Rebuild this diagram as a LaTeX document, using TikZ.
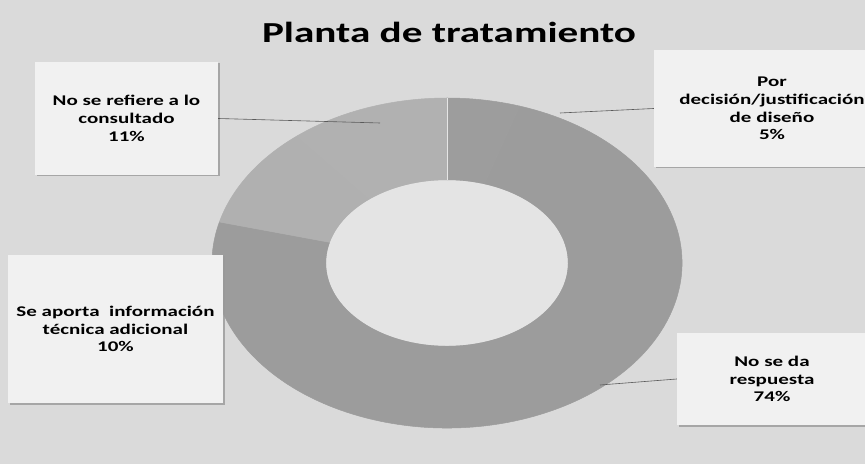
\documentclass[tikz,border=0pt]{standalone}
\usepackage{fontspec}
\setmainfont{Carlito}[FakeStretch=1.42]
\usetikzlibrary{shadows,calc}
\definecolor{bgcol}{HTML}{DADADA}
\definecolor{holecol}{HTML}{E4E4E4}
\definecolor{boxcol}{HTML}{F1F1F1}
\definecolor{sdark}{HTML}{9C9C9C}
\definecolor{sfive}{HTML}{9D9D9D}
\definecolor{sten}{HTML}{B0B0B0}
\definecolor{seleven}{HTML}{B1B1B1}
\definecolor{leadcol}{HTML}{5A5A5A}
\tikzset{
  labelbox/.style={fill=boxcol, inner sep=0pt, align=center,
    font=\bfseries\fontsize{14.8}{17.8}\selectfont,
    drop shadow={shadow xshift=1.5pt, shadow yshift=-1.5pt, fill=gray!80, opacity=0.8}},
  leader/.style={draw=leadcol, line width=0.6pt},
  titletext/.style={font=\bfseries\fontsize{29}{34}\selectfont},
  slice/.style={fill=#1, draw=#1, line width=0.5pt, line join=round}
}
\begin{document}
\begin{tikzpicture}[x=1pt,y=1pt]
\useasboundingbox (0,0) rectangle (865,464);
\fill[bgcol] (0,0) rectangle (865,464);
% donut centre (447,201), outer 235x165, inner 121x83
\def\cx{447}\def\cy{201}
\path[slice=sdark] ($(\cx,\cy)+(72:235 and 165)$) arc[start angle=72, end angle=-194.4, x radius=235, y radius=165]
  -- ($(\cx,\cy)+(-194.4:121 and 83)$) arc[start angle=-194.4, end angle=72, x radius=121, y radius=83] -- cycle;
\path[slice=sfive] ($(\cx,\cy)+(90:235 and 165)$) arc[start angle=90, end angle=72, x radius=235, y radius=165]
  -- ($(\cx,\cy)+(72:121 and 83)$) arc[start angle=72, end angle=90, x radius=121, y radius=83] -- cycle;
\path[slice=sten] ($(\cx,\cy)+(165.6:235 and 165)$) arc[start angle=165.6, end angle=129.6, x radius=235, y radius=165]
  -- ($(\cx,\cy)+(129.6:121 and 83)$) arc[start angle=129.6, end angle=165.6, x radius=121, y radius=83] -- cycle;
\path[slice=seleven] ($(\cx,\cy)+(129.6:235 and 165)$) arc[start angle=129.6, end angle=90, x radius=235, y radius=165]
  -- ($(\cx,\cy)+(90:121 and 83)$) arc[start angle=90, end angle=129.6, x radius=121, y radius=83] -- cycle;
\fill[holecol] (\cx,\cy) ellipse[x radius=120.7, y radius=82.7];
\draw[bgcol!70!white, line width=0.8pt] ($(\cx,\cy)+(90:121 and 83)$) -- ($(\cx,\cy)+(90:235 and 165)$);

\node[titletext, anchor=base] (title) at (449,421) {Planta de tratamiento};

\node[labelbox, minimum width=183pt, minimum height=113pt] (refiere) at (126.5,345.5)
  {No se refiere a lo\\consultado\\11\%};
\node[labelbox, minimum width=236pt, minimum height=117pt] (por) at (772,355.5)
  {Por\\decisión/justificación\\de diseño\\5\%};
\node[labelbox, minimum width=215pt, minimum height=148pt] (aporta) at (115.5,135)
  {Se aporta\ \ información\\técnica adicional\\10\%};
\node[labelbox, minimum width=190pt, minimum height=92pt] (noda) at (772,85)
  {No se da\\respuesta\\74\%};

\coordinate (c1) at (380,341);
\coordinate (c2) at (560,351);
\coordinate (c3) at (600,79);
\draw[leader] (refiere.east) -- (c1);
\draw[leader] (por.west) -- (c2);
\draw[leader] (noda.west) -- (c3);
\end{tikzpicture}
\end{document}
